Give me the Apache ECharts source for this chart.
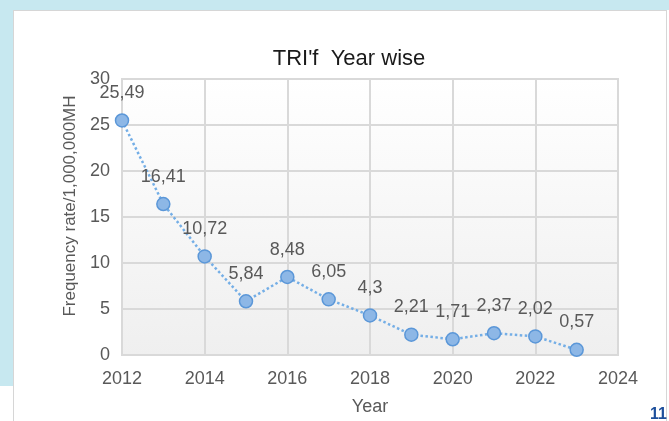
<!DOCTYPE html>
<html>
<head>
<meta charset="utf-8">
<script src="https://cdn.jsdelivr.net/npm/echarts@6/dist/echarts.min.js"></script>
<style>
html,body{margin:0;padding:0;background:#ffffff;}
#bgTop{position:absolute;left:0;top:0;width:669px;height:10px;background:#c7e8f0;}
#bgLeft{position:absolute;left:0;top:0;width:13px;height:386px;background:#c7e8f0;}
#panel{position:absolute;left:13px;top:10px;width:652px;height:420px;border:1.5px solid #d6d6d6;border-bottom:none;background:#fff;}
#chart{position:absolute;left:0;top:0;width:669px;height:421px;}
#pg{position:absolute;left:650px;top:405px;font:bold 16px "Liberation Sans",Arial,sans-serif;color:#1d4f9c;}
</style>
</head>
<body>
<div id="bgTop"></div>
<div id="bgLeft"></div>
<div id="panel"></div>
<div id="chart"></div>
<div id="pg">11</div>
<script>
const years = [2012, 2013, 2014, 2015, 2016, 2017, 2018, 2019, 2020, 2021, 2022, 2023];
const rates = [25.49, 16.41, 10.72, 5.84, 8.48, 6.05, 4.3, 2.21, 1.71, 2.37, 2.02, 0.57];
const xTicks = [2012, 2014, 2016, 2018, 2020, 2022, 2024];
const yTicks = [0, 5, 10, 15, 20, 25, 30];
const titleText = "TRI'f  Year wise";
const xName = "Year";
const yName = "Frequency rate/1,000,000MH";

const chart = echarts.init(document.getElementById('chart'), null, {renderer: 'canvas'});
const font = '"Liberation Sans", Arial, sans-serif';
const grey = '#595959';
const data = years.map((y, i) => [y, rates[i]]);

chart.setOption({
  backgroundColor: 'transparent',
  animation: false,
  title: {
    text: titleText, left: 344, top: 43, textAlign: 'center',
    textStyle: {fontFamily: font, fontSize: 22, fontWeight: 'normal', color: '#1a1a1a'}
  },
  graphic: [{
    type: 'text', x: 70, y: 206, rotation: Math.PI / 2,
    style: {text: yName, fill: grey, font: '17px "Liberation Sans", Arial, sans-serif',
      textAlign: 'center', textVerticalAlign: 'middle'}
  }],
  grid: {left: 122, top: 79, right: 51, bottom: 66, show: true, borderColor: '#d9d9d9', borderWidth: 2,
    backgroundColor: new echarts.graphic.LinearGradient(0, 0, 0, 1, [{offset: 0, color: '#ffffff'}, {offset: 1, color: '#efefef'}])},
  xAxis: {
    type: 'value', min: xTicks[0], max: xTicks[xTicks.length - 1], interval: 2,
    name: xName, nameLocation: 'middle', nameGap: 43,
    nameTextStyle: {fontFamily: font, fontSize: 18, color: grey},
    axisLine: {show: true, lineStyle: {color: '#d9d9d9', width: 2}},
    axisTick: {show: false},
    axisLabel: {fontFamily: font, fontSize: 18, color: grey, margin: 15, formatter: v => String(v)},
    splitLine: {show: true, lineStyle: {color: '#d9d9d9', width: 2}}
  },
  yAxis: {
    type: 'value', min: yTicks[0], max: yTicks[yTicks.length - 1], interval: 5,
    axisLine: {show: true, lineStyle: {color: '#d9d9d9', width: 2}},
    axisTick: {show: false},
    axisLabel: {fontFamily: font, fontSize: 18, color: grey, margin: 12},
    splitLine: {show: true, lineStyle: {color: '#d9d9d9', width: 2}}
  },
  series: [{
    type: 'line', data: data,
    symbol: 'circle', symbolSize: 13,
    lineStyle: {color: '#74aee6', width: 2.5, type: 'dotted'},
    itemStyle: {color: '#8db7e6', borderColor: '#5b97d8', borderWidth: 1.5},
    label: {show: true, position: 'top', distance: 11, fontFamily: font, fontSize: 18, color: grey,
      formatter: p => String(p.value[1]).replace('.', ',')},
    z: 5
  }]
});
</script>
</body>
</html>
